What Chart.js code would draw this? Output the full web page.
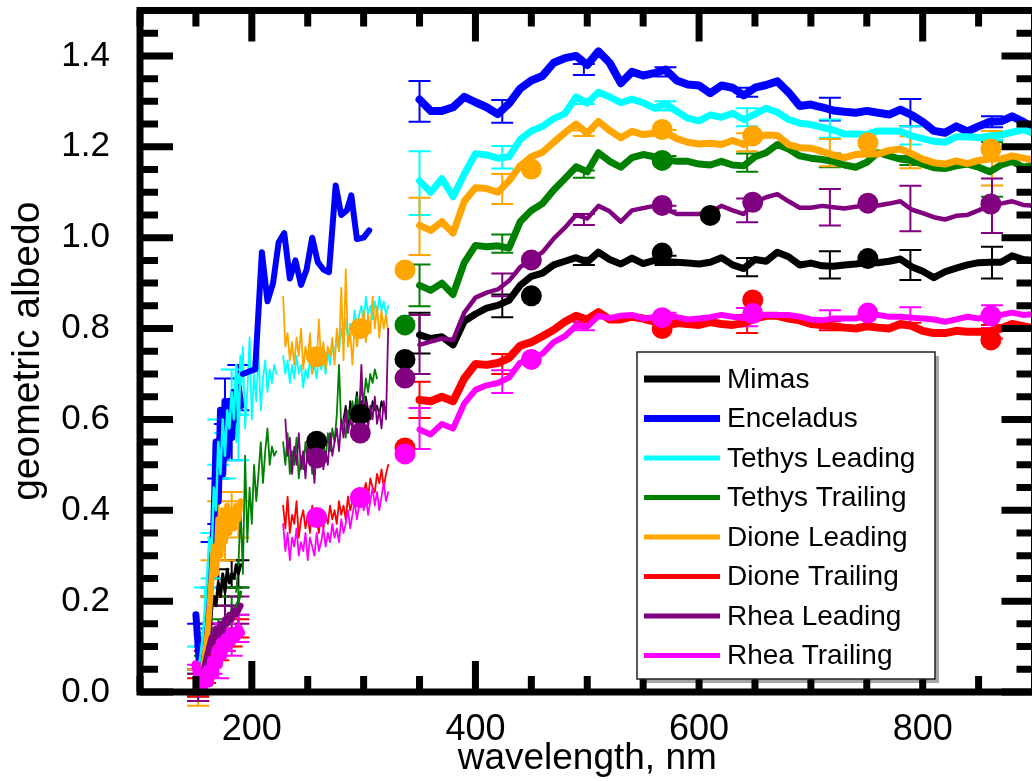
<!DOCTYPE html>
<html>
<head>
<meta charset="utf-8">
<script src="https://cdn.jsdelivr.net/npm/chart.js@4.4.0/dist/chart.umd.min.js"></script>
<style>
  html, body { margin: 0; padding: 0; overflow: hidden; background: #fff; }
</style>
</head>
<body>
<canvas id="chart" width="1045" height="781"></canvas>
<script>
// ---- data ----
const moonNames = ["Mimas", "Enceladus", "Tethys Leading", "Tethys Trailing",
  "Dione Leading", "Dione Trailing", "Rhea Leading", "Rhea Trailing"];
const moonColors = ["#000000", "#0000ff", "#00ffff", "#008000",
  "#ffa500", "#ff0000", "#800080", "#ff00ff"];

const xTicks = [200, 400, 600, 800];
const yTicks = [0, 0.2, 0.4, 0.6, 0.8, 1.0, 1.2, 1.4];

// visible spectra, 350-900 nm
const visWl = [350, 360, 370, 380, 390, 400, 410, 420, 430, 440, 450, 460, 470, 480,
  490, 500, 510, 520, 530, 540, 550, 560, 570, 580, 590, 600, 610, 620, 630, 640,
  650, 660, 670, 680, 690, 700, 710, 720, 730, 740, 750, 760, 770, 780, 790, 800,
  810, 820, 830, 840, 850, 860, 870, 880, 890, 900];
const mimasVis = [0.786, 0.778, 0.782, 0.764, 0.816, 0.832, 0.845, 0.851, 0.862, 0.895, 0.915, 0.922, 0.94, 0.948,
  0.956, 0.946, 0.968, 0.952, 0.942, 0.955, 0.943, 0.95, 0.947, 0.946, 0.944, 0.942, 0.946, 0.956, 0.94, 0.932,
  0.952, 0.948, 0.968, 0.958, 0.94, 0.944, 0.938, 0.937, 0.94, 0.942, 0.945, 0.945, 0.948, 0.953, 0.936, 0.926,
  0.912, 0.925, 0.933, 0.94, 0.945, 0.946, 0.946, 0.96, 0.952, 0.95];
const enceladusVis = [1.304, 1.279, 1.279, 1.287, 1.31, 1.298, 1.287, 1.272, 1.295, 1.328, 1.346, 1.356, 1.385, 1.395,
  1.40, 1.38, 1.41, 1.385, 1.34, 1.365, 1.357, 1.362, 1.37, 1.346, 1.337, 1.335, 1.318, 1.335, 1.33, 1.313,
  1.33, 1.336, 1.344, 1.32, 1.29, 1.293, 1.287, 1.28, 1.277, 1.275, 1.279, 1.275, 1.271, 1.282, 1.27, 1.255,
  1.235, 1.231, 1.245, 1.234, 1.245, 1.255, 1.256, 1.267, 1.255, 1.24];
const tethysLVis = [1.125, 1.10, 1.13, 1.09, 1.14, 1.185, 1.182, 1.175, 1.178, 1.216, 1.235, 1.245, 1.262, 1.273,
  1.31, 1.296, 1.32, 1.31, 1.297, 1.305, 1.297, 1.285, 1.295, 1.278, 1.263, 1.257, 1.27, 1.265, 1.274, 1.26,
  1.272, 1.285, 1.276, 1.26, 1.252, 1.249, 1.243, 1.237, 1.228, 1.228, 1.227, 1.235, 1.235, 1.234, 1.224, 1.218,
  1.212, 1.21, 1.222, 1.222, 1.22, 1.224, 1.226, 1.232, 1.238, 1.228];
const tethysTVis = [0.895, 0.884, 0.90, 0.875, 0.945, 0.983, 0.98, 0.982, 0.977, 1.035, 1.06, 1.075, 1.105, 1.13,
  1.156, 1.145, 1.187, 1.168, 1.155, 1.176, 1.183, 1.178, 1.172, 1.168, 1.168, 1.162, 1.16, 1.168, 1.16, 1.158,
  1.178, 1.187, 1.205, 1.195, 1.18, 1.175, 1.172, 1.168, 1.16, 1.155, 1.166, 1.187, 1.18, 1.173, 1.17, 1.162,
  1.154, 1.152, 1.158, 1.162, 1.155, 1.145, 1.16, 1.168, 1.155, 1.16];
const dioneLVis = [1.027, 1.016, 1.035, 1.01, 1.08, 1.11, 1.108, 1.10, 1.125, 1.158, 1.178, 1.188, 1.21, 1.231,
  1.25, 1.23, 1.256, 1.236, 1.22, 1.234, 1.227, 1.23, 1.232, 1.218, 1.21, 1.206, 1.208, 1.205, 1.214, 1.205,
  1.22, 1.226, 1.225, 1.205, 1.198, 1.197, 1.19, 1.182, 1.176, 1.183, 1.184, 1.184, 1.192, 1.195, 1.185, 1.173,
  1.165, 1.162, 1.169, 1.163, 1.17, 1.173, 1.173, 1.18, 1.175, 1.17];
const dioneTVis = [0.643, 0.64, 0.65, 0.64, 0.69, 0.722, 0.72, 0.724, 0.735, 0.762, 0.77, 0.783, 0.797, 0.815,
  0.828, 0.82, 0.836, 0.82, 0.82, 0.826, 0.822, 0.815, 0.81, 0.812, 0.81, 0.808, 0.814, 0.81, 0.808, 0.812,
  0.822, 0.828, 0.828, 0.822, 0.818, 0.81, 0.808, 0.805, 0.802, 0.80, 0.805, 0.802, 0.80, 0.81, 0.806, 0.795,
  0.79, 0.79, 0.795, 0.793, 0.793, 0.793, 0.80, 0.81, 0.805, 0.80];
const rheaLVis = [0.764, 0.771, 0.778, 0.775, 0.835, 0.868, 0.879, 0.886, 0.905, 0.935, 0.952, 0.968, 0.998, 1.022,
  1.05, 1.042, 1.07, 1.058, 1.035, 1.06, 1.065, 1.07, 1.063, 1.052, 1.052, 1.052, 1.056, 1.07, 1.06, 1.052,
  1.078, 1.089, 1.096, 1.08, 1.066, 1.066, 1.07, 1.067, 1.064, 1.068, 1.071, 1.071, 1.075, 1.08, 1.062, 1.054,
  1.045, 1.04, 1.048, 1.05, 1.06, 1.071, 1.075, 1.08, 1.072, 1.07];
const rheaTVis = [0.578, 0.567, 0.59, 0.58, 0.635, 0.665, 0.675, 0.68, 0.692, 0.725, 0.73, 0.745, 0.77, 0.783,
  0.806, 0.804, 0.828, 0.823, 0.828, 0.83, 0.822, 0.825, 0.83, 0.825, 0.82, 0.822, 0.825, 0.83, 0.826, 0.823,
  0.832, 0.83, 0.83, 0.83, 0.826, 0.82, 0.818, 0.822, 0.822, 0.822, 0.83, 0.83, 0.826, 0.826, 0.824, 0.822,
  0.82, 0.815, 0.82, 0.826, 0.822, 0.826, 0.83, 0.835, 0.83, 0.832];

// error bars on the visible spectra
const errWl = [350, 424, 497, 570, 643, 717, 789, 862];
const mimasErrMid = [0.79, 0.85, 0.948, 0.95, 0.935, 0.94, 0.94, 0.945];
const mimasErr = [0.045, 0.025, 0.008, 0.01, 0.02, 0.03, 0.033, 0.035];
const enceladusErrMid = [1.30, 1.278, 1.37, 1.365, 1.32, 1.283, 1.275, 1.255];
const enceladusErr = [0.045, 0.025, 0.012, 0.01, 0.01, 0.025, 0.03, 0.012];
const tethysLErrMid = [1.12, 1.177, 1.30, 1.29, 1.265, 1.24, 1.225, 1.225];
const tethysLErr = [0.07, 0.025, 0.006, 0.01, 0.02, 0.02, 0.02, 0.01];
const tethysTErrMid = [0.895, 0.987, 1.14, 1.175, 1.165, 1.17, 1.17, 1.15];
const tethysTErr = [0.046, 0.02, 0.008, 0.005, 0.02, 0.015, 0.01, 0.06];
const dioneLErrMid = [1.025, 1.107, 1.23, 1.232, 1.21, 1.187, 1.188, 1.175];
const dioneLErr = [0.063, 0.033, 0.006, 0.005, 0.02, 0.03, 0.035, 0.06];
const dioneTErrMid = [0.643, 0.722, 0.82, 0.81, 0.81, 0.806, 0.808, 0.793];
const dioneTErr = [0.04, 0.022, 0.006, 0.006, 0.02, 0.01, 0.005, 0.015];
const rheaLErrMid = [0.765, 0.896, 1.04, 1.065, 1.06, 1.067, 1.064, 1.07];
const rheaLErr = [0.065, 0.025, 0.012, 0.005, 0.026, 0.04, 0.05, 0.06];
const rheaTErrMid = [0.58, 0.683, 0.806, 0.83, 0.825, 0.82, 0.825, 0.826];
const rheaTErr = [0.045, 0.025, 0.01, 0.005, 0.02, 0.02, 0.022, 0.025];

// filled circles
const mimasDotWl = [258, 297, 337, 450, 567, 610, 751];
const mimasDot = [0.552, 0.611, 0.732, 0.872, 0.966, 1.049, 0.954];
const tethysTDotWl = [337, 567];
const tethysTDot = [0.808, 1.17];
const dioneLDotWl = [258, 297, 337, 450, 567, 648, 751, 861];
const dioneLDot = [0.738, 0.80, 0.929, 1.151, 1.238, 1.224, 1.209, 1.195];
const dioneTDotWl = [337, 567, 648, 861];
const dioneTDot = [0.537, 0.80, 0.863, 0.775];
const rheaLDotWl = [258, 297, 337, 450, 567, 648, 751, 861];
const rheaLDot = [0.515, 0.570, 0.691, 0.951, 1.071, 1.078, 1.076, 1.074];
const rheaTDotWl = [258, 297, 337, 450, 567, 648, 751, 861];
const rheaTDot = [0.384, 0.428, 0.524, 0.732, 0.824, 0.833, 0.834, 0.828];

// near-UV spectra (thin lines), 228-322 nm
const uvWl = [228, 230, 232, 234, 236, 238, 240, 242, 244, 246, 248, 250, 252, 254, 256, 258,
  260, 262, 264, 266, 268, 270, 272, 274, 276, 278, 280, 282, 284, 286, 288, 290,
  292, 294, 296, 298, 300, 302, 304, 306, 308, 310, 312, 314, 316, 318, 320, 322];
const mimasUv = [null, null, null, null, null, null, null, null, null, null, null, null, null, null, null, null,
  null, null, null, null, null, null, null, null, null, null, null, 0.60, 0.63, 0.58, 0.64, 0.61,
  0.62, 0.66, 0.60, 0.64, 0.61, 0.65, 0.62, 0.60, 0.64, 0.62, 0.63, 0.61, 0.64, 0.62, null, null];
const tethysLUv = [0.74, 0.70, 0.73, 0.68, 0.72, 0.69, 0.74, 0.70, 0.72, 0.67, 0.71, 0.69, 0.73, 0.70, 0.72, 0.69,
  0.74, 0.71, 0.73, 0.70, 0.75, 0.72, 0.76, 0.74, 0.78, 0.75, 0.80, 0.77, 0.82, 0.78, 0.81, 0.79,
  0.84, 0.80, 0.83, 0.85, 0.81, 0.87, 0.83, 0.85, 0.82, 0.86, 0.83, 0.87, 0.84, 0.86, 0.83, 0.85];
const tethysTUv = [0.55, 0.50, 0.57, 0.48, 0.53, 0.50, 0.56, 0.47, 0.52, 0.49, 0.55, 0.51, 0.54, 0.48, 0.53, 0.50,
  0.56, 0.52, 0.55, 0.51, 0.57, 0.53, 0.58, 0.55, 0.61, 0.72, 0.58, 0.60, 0.56, 0.62, 0.59, 0.64,
  0.60, 0.65, 0.62, 0.67, 0.64, 0.69, 0.66, 0.70, 0.68, 0.71, 0.69, null, null, null, null, null];
const dioneLUv = [0.87, 0.76, 0.79, 0.73, 0.77, 0.72, 0.78, 0.74, 0.80, 0.71, 0.76, 0.73, 0.79, 0.70, 0.75, 0.73,
  0.82, 0.72, 0.77, 0.71, 0.76, 0.74, 0.78, 0.72, 0.80, 0.75, 0.89, 0.73, 0.93, 0.76, 0.79, 0.72,
  0.81, 0.76, 0.80, 0.78, 0.84, 0.77, 0.83, 0.79, 0.87, 0.80, 0.85, 0.78, 0.84, 0.80, 0.83, 0.79];
const dioneTUv = [0.41, 0.36, 0.43, 0.35, 0.39, 0.37, 0.42, 0.34, 0.38, 0.40, 0.36, 0.39, 0.35, 0.41, 0.37, 0.38,
  0.35, 0.40, 0.36, 0.39, 0.37, 0.41, 0.38, 0.40, 0.37, 0.42, 0.39, 0.41, 0.38, 0.43, 0.40, 0.42,
  0.44, 0.41, 0.45, 0.42, 0.44, 0.46, 0.43, 0.47, 0.45, 0.44, 0.48, 0.46, 0.49, 0.45, 0.48, 0.50];
const rheaLUv = [null, 0.60, 0.52, 0.56, 0.48, 0.54, 0.50, 0.57, 0.49, 0.53, 0.47, 0.55, 0.50, 0.52, 0.46, 0.54,
  0.51, 0.56, 0.49, 0.53, 0.50, 0.57, 0.52, 0.55, 0.58, 0.53, 0.60, 0.56, 0.62, 0.57, 0.60, 0.58,
  0.63, 0.59, 0.61, 0.72, 0.60, 0.64, 0.58, 0.63, 0.60, 0.65, 0.59, 0.62, 0.58, 0.64, 0.60, 0.80];
const rheaTUv = [0.37, 0.31, 0.35, 0.29, 0.34, 0.32, 0.36, 0.30, 0.33, 0.31, 0.35, 0.29, 0.34, 0.32, 0.30, 0.35,
  0.31, 0.33, 0.36, 0.32, 0.35, 0.33, 0.37, 0.34, 0.36, 0.33, 0.38, 0.35, 0.37, 0.40, 0.36, 0.39,
  0.42, 0.38, 0.41, 0.44, 0.40, 0.43, 0.39, 0.42, 0.45, 0.41, 0.44, 0.40, 0.43, 0.46, 0.42, 0.44];

// Tethys thin spectra, 186-222 nm
const midWl = [186, 188, 190, 192, 194, 196, 198, 200, 202, 204, 206, 208, 210, 212, 214, 216, 218, 220, 222];
const tethysLMid = [0.55, 0.70, 0.62, 0.76, 0.58, 0.66, 0.78, 0.60, 0.70, 0.64, 0.75, 0.62, 0.69, 0.73, 0.66, 0.71, 0.68, 0.72, 0.70];
const tethysTMid = [0.22, 0.28, 0.40, 0.26, 0.52, 0.33, 0.45, 0.37, 0.50, 0.42, 0.48, 0.55, 0.46, 0.53, 0.58, 0.50, 0.54, 0.52, 0.53];

// Enceladus UV spectrum (thick)
const encUvWl = [192, 197, 203, 209, 214, 219, 224, 229, 234, 239, 244, 249, 254, 259, 264, 269,
  275, 280, 285, 289, 294, 300, 305];
const encUv = [0.70, 0.705, 0.71, 0.968, 0.86, 0.90, 0.99, 1.01, 0.91, 0.95, 0.896, 0.93, 1.0, 0.946, 0.93, 0.924,
  1.115, 1.05, 1.06, 1.093, 0.997, 1.0, 1.016];

// far-UV points, 150-190 nm
const fuvWl = [150, 152, 154, 156, 158, 160, 162, 164, 166, 168, 170, 172, 174, 176, 178, 180, 182, 184, 186, 188, 190];
const mimasFuv = [0.01, 0.02, 0.03, 0.05, 0.07, 0.10, 0.14, 0.18, 0.21, 0.19, 0.24, 0.21, 0.26, 0.22, 0.27, 0.24, 0.26, 0.25, 0.28, 0.26, 0.28];
const enceladusFuv = [0.17, 0.10, 0.03, 0.02, 0.05, 0.12, 0.20, 0.28, 0.36, 0.55, 0.42, 0.62, 0.48, 0.64, 0.52, 0.64, 0.56, 0.66, 0.60, 0.67, 0.63];
const tethysLFuv = [0.03, 0.05, 0.08, 0.12, 0.18, 0.25, 0.34, 0.30, 0.45, 0.40, 0.55, 0.48, 0.60, 0.52, 0.62, 0.58, 0.66, 0.60, 0.72, 0.56, 0.74];
const tethysTFuv = [0.0, 0.01, 0.02, 0.03, 0.05, 0.07, 0.09, 0.11, 0.12, 0.14, 0.13, 0.15, 0.14, 0.16, 0.17, 0.15, 0.18, 0.17, 0.19, 0.20, 0.22];
const dioneLFuv = [0.0, 0.01, 0.03, 0.05, 0.08, 0.12, 0.18, 0.25, 0.32, 0.26, 0.38, 0.30, 0.40, 0.33, 0.41, 0.35, 0.40, 0.36, 0.41, 0.38, 0.42];
const dioneTFuv = [0.0, 0.01, 0.02, 0.03, 0.04, 0.05, 0.07, 0.08, 0.09, 0.10, 0.09, 0.11, 0.10, 0.12, 0.11, 0.13, 0.12, 0.13, 0.12, 0.14, 0.14];
const rheaLFuv = [0.0, 0.01, 0.02, 0.04, 0.06, 0.08, 0.10, 0.12, 0.11, 0.14, 0.12, 0.15, 0.13, 0.16, 0.15, 0.17, 0.16, 0.18, 0.17, 0.18, 0.19];
const rheaTFuv = [0.06, 0.03, 0.01, 0.0, 0.03, 0.05, 0.02, 0.07, 0.04, 0.09, 0.06, 0.11, 0.08, 0.12, 0.10, 0.13, 0.11, 0.13, 0.12, 0.14, 0.13];
const fuvErrHalf = [0.03, 0.05, 0.05, 0.03, 0.04, 0.02, 0.03, 0.03];

// ---- build datasets ----
const visSets = [mimasVis, enceladusVis, tethysLVis, tethysTVis, dioneLVis, dioneTVis, rheaLVis, rheaTVis];
const visWidths = [7, 8, 7, 7, 7, 8, 4.5, 6];
const errMids = [mimasErrMid, enceladusErrMid, tethysLErrMid, tethysTErrMid, dioneLErrMid, dioneTErrMid, rheaLErrMid, rheaTErrMid];
const errHalf = [mimasErr, enceladusErr, tethysLErr, tethysTErr, dioneLErr, dioneTErr, rheaLErr, rheaTErr];
const uvSets = [mimasUv, null, tethysLUv, tethysTUv, dioneLUv, dioneTUv, rheaLUv, rheaTUv];
const fuvSets = [mimasFuv, enceladusFuv, tethysLFuv, tethysTFuv, dioneLFuv, dioneTFuv, rheaLFuv, rheaTFuv];
const fuvWidths = [3, 7, 2.5, 3, 6, 3, 6, 9];
const dotWls = [mimasDotWl, null, null, tethysTDotWl, dioneLDotWl, dioneTDotWl, rheaLDotWl, rheaTDotWl];
const dotVals = [mimasDot, null, null, tethysTDot, dioneLDot, dioneTDot, rheaLDot, rheaTDot];

function pts(xs, ys) {
  return xs.map((x, i) => ({ x: x, y: ys[i] }));
}

function lineSet(data, color, width, order) {
  return {
    data: data, borderColor: color, backgroundColor: color, borderWidth: width,
    pointRadius: 0, showLine: true, tension: 0, spanGaps: false,
    borderJoinStyle: "round", borderCapStyle: "round", order: order
  };
}

const datasets = [];
for (let i = 0; i < 8; i++) {
  const c = moonColors[i];
  datasets.push(lineSet(pts(visWl, visSets[i]), c, visWidths[i], 20 - i));
  if (uvSets[i]) datasets.push(lineSet(pts(uvWl, uvSets[i]), c, 1.8, 40 - i));
  datasets.push(lineSet(pts(fuvWl, fuvSets[i]), c, fuvWidths[i], 30 - i));
  if (dotWls[i]) {
    datasets.push({
      data: pts(dotWls[i], dotVals[i]), showLine: false, pointRadius: 10.5,
      pointBackgroundColor: c, pointBorderWidth: 0, order: 10 - i
    });
  }
  datasets.push({
    data: pts(errWl, errMids[i]), errs: errHalf[i], errColor: c,
    showLine: false, pointRadius: 0, order: 50
  });
  // far-UV error bars on every third far-UV point
  const fIdx = [1, 4, 7, 10, 13, 16, 19];
  datasets.push({
    data: fIdx.map((k) => ({ x: fuvWl[k], y: fuvSets[i][k] })),
    errs: fIdx.map(() => fuvErrHalf[i]), errColor: c,
    showLine: false, pointRadius: 0, order: 50
  });
}
datasets.push(lineSet(pts(midWl, tethysLMid), moonColors[2], 1.8, 38));
datasets.push(lineSet(pts(midWl, tethysTMid), moonColors[3], 1.8, 37));
datasets.push(lineSet(pts(encUvWl, encUv), moonColors[1], 6, 19));

// ---- plugins ----
const errorBars = {
  id: "errorBars",
  beforeDatasetsDraw(chart) {
    const { ctx, scales: { x, y } } = chart;
    ctx.save();
    ctx.lineWidth = 2;
    chart.data.datasets.forEach((d) => {
      if (!d.errs) return;
      ctx.strokeStyle = d.errColor;
      d.data.forEach((p, i) => {
        const px = x.getPixelForValue(p.x);
        const top = y.getPixelForValue(p.y + d.errs[i]);
        const bot = y.getPixelForValue(p.y - d.errs[i]);
        ctx.beginPath();
        ctx.moveTo(px, top); ctx.lineTo(px, bot);
        ctx.moveTo(px - 11, top); ctx.lineTo(px + 11, top);
        ctx.moveTo(px - 11, bot); ctx.lineTo(px + 11, bot);
        ctx.stroke();
      });
    });
    ctx.restore();
  }
};

const frame = {
  id: "frame",
  afterDatasetsDraw(chart) {
    const { ctx, chartArea: a, scales: { x, y } } = chart;
    ctx.save();
    ctx.strokeStyle = "#000";
    ctx.lineWidth = 7;
    ctx.beginPath();
    // x ticks every 50 nm, long at labelled ones
    for (let v = 100; v <= 900; v += 50) {
      const px = x.getPixelForValue(v);
      const len = xTicks.includes(v) ? 31 : 16;
      ctx.moveTo(px, a.bottom); ctx.lineTo(px, a.bottom - len);
      ctx.moveTo(px, a.top); ctx.lineTo(px, a.top + len);
    }
    for (let k = 0; k <= 30; k++) {
      const py = y.getPixelForValue(k * 0.05);
      const len = k % 4 === 0 ? 33 : 18;
      ctx.moveTo(a.left, py); ctx.lineTo(a.left + len, py);
      ctx.moveTo(a.right, py); ctx.lineTo(a.right - len, py);
    }
    ctx.stroke();
    ctx.strokeRect(a.left, a.top, a.right - a.left, a.bottom - a.top);
    ctx.restore();
  }
};

const boxLegend = {
  id: "boxLegend",
  afterDraw(chart) {
    const ctx = chart.ctx;
    const bx = 637, by = 352, bw = 298, bh = 327;
    ctx.save();
    ctx.fillStyle = "rgba(0,0,0,0.35)";
    ctx.fillRect(bx + 4, by + 4, bw, bh);
    ctx.fillStyle = "#fff";
    ctx.fillRect(bx, by, bw, bh);
    ctx.strokeStyle = "#222";
    ctx.lineWidth = 1.5;
    ctx.strokeRect(bx, by, bw, bh);
    ctx.font = "28px 'Liberation Sans', Arial, sans-serif";
    ctx.textBaseline = "middle";
    moonNames.forEach((name, i) => {
      const ly = by + 27 + i * 39.5;
      ctx.strokeStyle = moonColors[i];
      ctx.lineWidth = i < 2 ? 7 : 5;
      ctx.beginPath();
      ctx.moveTo(bx + 7, ly); ctx.lineTo(bx + 83, ly);
      ctx.stroke();
      ctx.fillStyle = "#000";
      ctx.fillText(name, bx + 90, ly + 1);
    });
    ctx.restore();
  }
};

// ---- chart ----
const font = "'Liberation Sans', Arial, sans-serif";
new Chart(document.getElementById("chart"), {
  type: "scatter",
  data: { datasets: datasets },
  options: {
    responsive: false,
    animation: false,
    devicePixelRatio: 1,
    layout: { padding: { top: 7, right: 8, left: 0, bottom: 0 } },
    plugins: { legend: { display: false }, tooltip: { enabled: false } },
    scales: {
      x: {
        type: "linear", min: 100, max: 900,
        afterBuildTicks: (s) => { s.ticks = xTicks.map((v) => ({ value: v })); },
        afterFit: (s) => { s.height = 89; s.paddingLeft = 0; s.paddingRight = 0; },
        grid: { display: false }, border: { display: false },
        ticks: { color: "#000", padding: 8, maxRotation: 0, font: { family: font, size: 36 } },
        title: { display: true, text: "wavelength, nm", color: "#000", padding: { top: 0, bottom: 0 },
          font: { family: font, size: 37 } }
      },
      y: {
        type: "linear", min: 0, max: 1.5,
        afterBuildTicks: (s) => { s.ticks = yTicks.map((v) => ({ value: v })); },
        afterFit: (s) => { s.width = 140; s.paddingTop = 0; s.paddingBottom = 0; },
        grid: { display: false }, border: { display: false },
        ticks: { color: "#000", padding: 22, callback: (v) => v.toFixed(1), font: { family: font, size: 35 } },
        title: { display: true, text: "geometric albedo", color: "#000", padding: { top: 5, bottom: 0 },
          font: { family: font, size: 39 } }
      }
    }
  },
  plugins: [errorBars, frame, boxLegend]
});
</script>
</body>
</html>
